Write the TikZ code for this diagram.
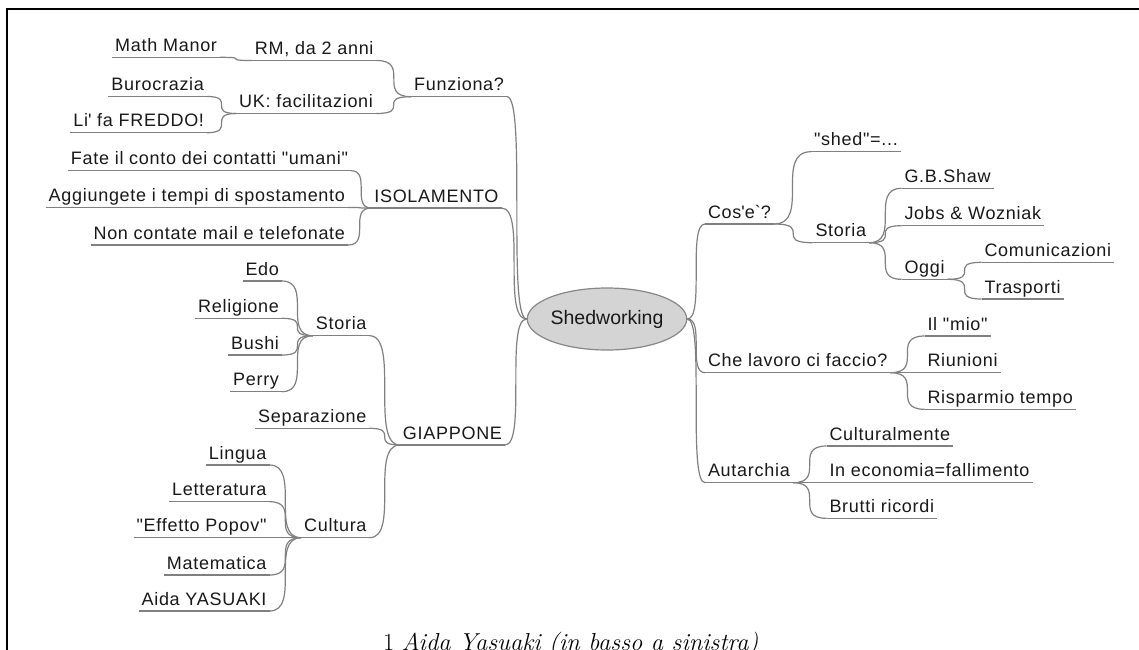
\documentclass[tikz,border=0pt]{standalone}
\usepackage{fontspec}
\newfontfamily\mmfont{Liberation Sans}[LetterSpace=4]
\newfontfamily\cfont{Liberation Sans}
\definecolor{lc}{RGB}{128,128,128}
\definecolor{tc}{RGB}{25,25,25}
\definecolor{ellfill}{RGB}{212,212,212}
\definecolor{elldraw}{RGB}{135,135,135}
\tikzset{
  lbl/.style={font=\mmfont\fontsize{18}{20}\selectfont, text=tc, inner xsep=3pt, inner ysep=2pt, text height=13.5pt, text depth=4pt, outer sep=0pt},
  lft/.style={lbl, anchor=south east},
  rgt/.style={lbl, anchor=south west},
  ul/.style={draw=lc, line width=1.2pt},
  mmcurve/.style={to path={.. controls (\tikztotarget |- \tikztostart) and (\tikztostart |- \tikztotarget) .. (\tikztotarget)}},
  conn/.style={draw=lc, line width=1.2pt, mmcurve},
  centre/.style={ellipse, draw=elldraw, fill=ellfill, line width=1.2pt, minimum width=134pt, minimum height=62pt, inner sep=0pt, text=tc, font=\cfont\fontsize{19.5}{22}\selectfont}
}
\usetikzlibrary{shapes.geometric}
\begin{document}
\begin{tikzpicture}[x=1pt,y=-1pt]
\useasboundingbox (0,0) rectangle (1139,649);
\clip (0,0) rectangle (1139,649);
\fill[white] (0,0) rectangle (1139,649);
% frame
\draw[line width=2pt, black] (7,660) -- (7,9) -- (1150,9);

% centre
\node[centre] (she) at (607,319) {Shedworking};

% left side
\node[lft] (fun) at (507,96.7) {Funziona?};
\node[lft] (rm) at (376.5,60.5) {RM, da 2 anni};
\node[lft] (math) at (220,57.3) {Math Manor};
\node[lft] (uk) at (376,113.5) {UK: facilitazioni};
\node[lft] (buro) at (207,96.5) {Burocrazia};
\node[lft] (fred) at (207,132.7) {Li\textquotesingle\ fa FREDDO!};
\node[lft] (iso) at (501.5,208) {ISOLAMENTO};
\node[lft] (fate) at (351,170.7) {Fate il conto dei contatti "umani"};
\node[lft] (aggi) at (348,207.5) {Aggiungete i tempi di spostamento};
\node[lft] (nonc) at (348,245) {Non contate mail e telefonate};
\node[lft] (giap) at (505,445) {GIAPPONE};
\node[lft] (stl) at (369.5,335.7) {Storia};
\node[lft] (edo) at (282,281) {Edo};
\node[lft] (rel) at (282,318.3) {Religione};
\node[lft] (bus) at (282,355) {Bushi};
\node[lft] (per) at (282,391.7) {Perry};
\node[lft] (sep) at (369.5,428.3) {Separazione};
\node[lft] (cul) at (369.5,537.7) {Cultura};
\node[lft] (lin) at (269.5,465) {Lingua};
\node[lft] (let) at (269.5,501.7) {Letteratura};
\node[lft] (pop) at (269.5,537.7) {"Effetto Popov"};
\node[lft] (mat) at (269.5,575) {Matematica};
\node[lft] (aid) at (269.5,611) {Aida YASUAKI};

% right side
\node[rgt] (cos) at (705,224) {Cos\textquotesingle e\textasciigrave ?};
\node[rgt] (shd) at (811,151.7) {"shed"=...};
\node[rgt] (str) at (812.5,242.7) {Storia};
\node[rgt] (gbs) at (901.5,188.3) {G.B.Shaw};
\node[rgt] (job) at (901.5,225.7) {Jobs \& Wozniak};
\node[rgt] (ogg) at (901.5,279.3) {Oggi};
\node[rgt] (com) at (981.5,262.3) {Comunicazioni};
\node[rgt] (tra) at (981.5,299) {Trasporti};
\node[rgt] (che) at (705,372.7) {Che lavoro ci faccio?};
\node[rgt] (mio) at (924.5,336) {Il "mio"};
\node[rgt] (riu) at (924.5,372.7) {Riunioni};
\node[rgt] (ris) at (924.5,409.3) {Risparmio tempo};
\node[rgt] (aut) at (705,482.7) {Autarchia};
\node[rgt] (clm) at (826.5,446) {Culturalmente};
\node[rgt] (eco) at (826.5,482.7) {In economia=fallimento};
\node[rgt] (bru) at (826.5,518.3) {Brutti ricordi};

% underlines
\foreach \n in {fun,rm,math,uk,buro,fred,iso,fate,aggi,nonc,giap,stl,edo,rel,bus,per,sep,cul,lin,let,pop,mat,aid,cos,shd,str,gbs,job,ogg,com,tra,che,mio,riu,ris,aut,clm,eco,bru}
  \draw[ul] (\n.south west) -- (\n.south east);

% left connectors
\foreach \c/\p in {rm/fun,uk/fun,math/rm,buro/uk,fred/uk,fate/iso,aggi/iso,nonc/iso,stl/giap,sep/giap,cul/giap,edo/stl,rel/stl,bus/stl,per/stl,lin/cul,let/cul,pop/cul,mat/cul,aid/cul}
  \draw[conn] (\c.south east) to (\p.south west);
\foreach \c in {fun,iso,giap}
  \draw[conn] (\c.south east) to (she.west);

% right connectors
\foreach \c in {cos,che,aut}
  \draw[conn] (she.east) to (\c.south west);
\foreach \p/\c in {cos/shd,cos/str,str/gbs,str/job,str/ogg,ogg/com,ogg/tra,che/mio,che/riu,che/ris,aut/clm,aut/eco,aut/bru}
  \draw[conn] (\p.south east) to (\c.south west);

% caption
\node[anchor=base west, inner sep=0pt, font=\fontsize{24.5}{28}\selectfont] (cap) at (383,650.5) {1 \textit{Aida Yasuaki (in basso a sinistra)}};
\end{tikzpicture}
\end{document}
